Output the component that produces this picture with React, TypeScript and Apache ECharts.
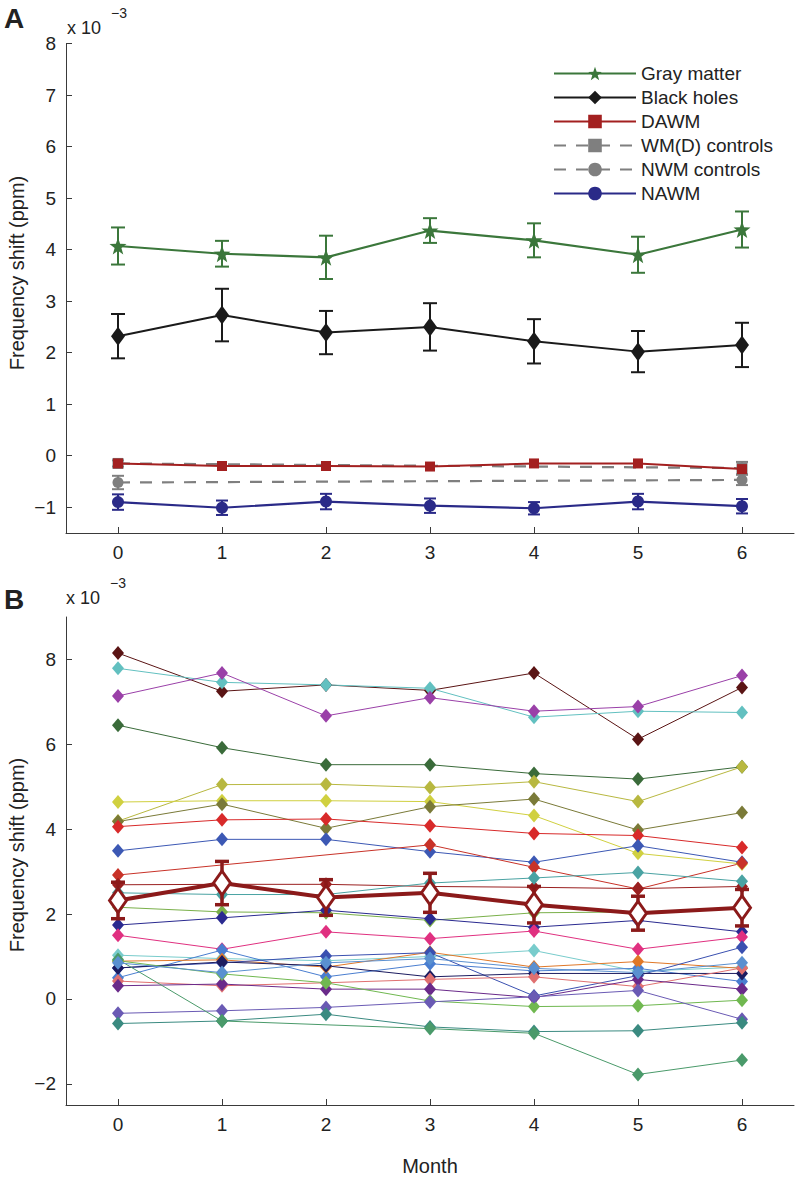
import React, { useEffect, useRef } from "react";
import * as echarts from "echarts";

const months = [0, 1, 2, 3, 4, 5, 6];
const yTicksA = [-1, 0, 1, 2, 3, 4, 5, 6, 7, 8];
const yTicksB = [-2, 0, 2, 4, 6, 8];

// Panel A
const grayMatter = [4.07, 3.92, 3.85, 4.37, 4.18, 3.9, 4.39];
const grayMatterErr = [0.36, 0.25, 0.42, 0.24, 0.33, 0.35, 0.35];
const blackHoles = [2.32, 2.73, 2.39, 2.5, 2.22, 2.02, 2.15];
const blackHolesErr = [0.43, 0.51, 0.42, 0.46, 0.43, 0.4, 0.43];
const dawm = [-0.15, -0.2, -0.2, -0.21, -0.15, -0.15, -0.26];
const wmdControls = [-0.15, null, null, null, null, null, -0.24];
const wmdControlsErr = [0.06, null, null, null, null, null, 0.12];
const nwmControls = [-0.52, null, null, null, null, null, -0.47];
const nwmControlsErr = [0.13, null, null, null, null, null, 0.1];
const nawm = [-0.9, -1.01, -0.89, -0.97, -1.02, -0.89, -0.98];
const nawmErr = [0.15, 0.14, 0.15, 0.14, 0.12, 0.15, 0.14];

// Panel B: individual black holes
const subjectColors = [
  "#5a1414", "#62c0c0", "#9a40a8", "#3a6b3a", "#b8b840", "#d0d040", "#7a7a38",
  "#d82a2a", "#3c58b4", "#c83228", "#9a2020", "#4aa3a3", "#7ab04a", "#2a2a90",
  "#e03080", "#78cccc", "#4a7ed0", "#e07828", "#3a50b0", "#1c1c60", "#e07070",
  "#6a2a8a", "#70b850", "#6a5ab4", "#3a8a80", "#4a9a6a", "#5a90d0",
];
const subjects: (number | null)[][] = [
  [8.15, 7.25, 7.4, 7.27, 7.68, 6.12, 7.34],
  [7.79, 7.46, 7.4, 7.32, 6.64, 6.78, 6.75],
  [7.14, 7.68, 6.67, 7.1, 6.78, 6.89, 7.62],
  [6.45, 5.92, 5.52, 5.52, 5.31, 5.18, 5.47],
  [4.19, 5.05, 5.06, 4.98, 5.12, 4.65, 5.47],
  [4.64, 4.67, 4.67, 4.65, 4.32, 3.43, 3.18],
  [4.18, 4.59, 4.02, 4.53, 4.71, 3.98, 4.39],
  [4.06, 4.22, 4.24, 4.08, 3.9, 3.85, 3.57],
  [3.49, 3.76, 3.76, 3.47, 3.22, 3.61, 3.22],
  [2.92, null, null, 3.63, 3.1, 2.59, 3.2],
  [2.69, 2.7, 2.7, 2.65, 2.63, 2.6, 2.65],
  [2.5, 2.46, 2.46, 2.73, 2.85, 2.98, 2.77],
  [2.16, 2.05, 2.03, 1.85, 2.03, 2.05, 2.14],
  [1.74, 1.91, 2.09, 1.89, 1.69, 1.85, 1.58],
  [1.5, 1.17, 1.58, 1.42, 1.6, 1.17, 1.46],
  [1.03, 0.95, 0.9, 1.0, 1.14, 0.65, 0.75],
  [0.5, 1.15, 0.52, 0.83, 0.66, 0.72, 0.41],
  [0.89, 0.92, 0.75, 1.1, 0.75, 0.88, 0.72],
  [0.73, 0.85, 1.01, 1.09, 0.07, 0.55, 1.22],
  [0.73, 0.87, 0.78, 0.52, 0.6, 0.6, 0.6],
  [0.42, 0.31, 0.38, 0.46, 0.52, 0.29, 0.73],
  [0.31, 0.35, 0.23, 0.23, 0.03, 0.46, 0.23],
  [0.9, 0.59, 0.38, -0.05, -0.18, -0.16, -0.03],
  [-0.34, -0.28, -0.2, -0.07, 0.05, 0.2, -0.48],
  [-0.58, -0.52, -0.36, -0.66, -0.77, -0.75, -0.56],
  [0.93, -0.52, null, -0.7, -0.81, -1.78, -1.44],
  [0.85, 0.62, 0.85, 0.95, 0.72, 0.62, 0.85],
];

const FONT = "Liberation Sans, Arial, Helvetica, sans-serif";
const AXIS_COLOR = "#3a3a3a";
const TEXT_COLOR = "#222";
const STAR =
  "path://M0,-10 L2.35,-3.24 L9.51,-3.09 L3.8,1.24 L5.88,8.09 L0,4 L-5.88,8.09 L-3.8,1.24 L-9.51,-3.09 L-2.35,-3.24Z";

const pairs = (vals: (number | null)[]) => months.map((m, i) => [m, vals[i]]);

function errorSeries(
  vals: (number | null)[],
  errs: (number | null)[],
  color: string,
  idx: number,
  lineWidth: number,
  cap: number,
  z: number
) {
  const data = months
    .map((m, i) => [m, vals[i], errs[i]])
    .filter((d) => d[1] != null && d[2] != null);
  return {
    type: "custom",
    xAxisIndex: idx,
    yAxisIndex: idx,
    z,
    silent: true,
    data,
    renderItem: (params: any, api: any) => {
      const x = api.value(0);
      const y = api.value(1);
      const e = api.value(2);
      const top = api.coord([x, y + e]);
      const bot = api.coord([x, y - e]);
      const style = { stroke: color, lineWidth };
      return {
        type: "group",
        children: [
          { type: "line", shape: { x1: top[0], y1: top[1], x2: bot[0], y2: bot[1] }, style },
          { type: "line", shape: { x1: top[0] - cap, y1: top[1], x2: top[0] + cap, y2: top[1] }, style },
          { type: "line", shape: { x1: bot[0] - cap, y1: bot[1], x2: bot[0] + cap, y2: bot[1] }, style },
        ],
      };
    },
  };
}

const minusFmt = (v: number) => (v < 0 ? "\u2212" + Math.abs(v) : String(v));

function xAxisDef(gridIndex: number) {
  return {
    type: "value",
    gridIndex,
    min: -0.5,
    max: 6.5,
    axisLine: { show: true, onZero: false, lineStyle: { color: AXIS_COLOR, width: 1 } },
    axisTick: { show: true, inside: true, length: 6, customValues: months, lineStyle: { color: AXIS_COLOR } },
    axisLabel: { customValues: months, margin: 10, fontSize: 19, color: TEXT_COLOR, fontFamily: FONT },
    splitLine: { show: false },
  };
}

function yAxisDef(gridIndex: number, min: number, max: number, ticks: number[]) {
  return {
    type: "value",
    gridIndex,
    min,
    max,
    axisLine: { show: true, onZero: false, lineStyle: { color: AXIS_COLOR, width: 1 } },
    axisTick: { show: true, inside: true, length: 6, customValues: ticks, lineStyle: { color: AXIS_COLOR } },
    axisLabel: {
      customValues: ticks,
      margin: 10,
      fontSize: 19,
      color: TEXT_COLOR,
      fontFamily: FONT,
      formatter: minusFmt,
    },
    splitLine: { show: false },
  };
}

export default function App() {
  const ref = useRef<HTMLDivElement>(null);

  useEffect(() => {
    if (!ref.current) return;
    const chart = echarts.init(ref.current, null, { renderer: "svg" });

    const green = "#3b773b";
    const black = "#1a1a1a";
    const dred = "#a32020";
    const gray = "#7f7f7f";
    const navy = "#2a2a88";
    const meanRed = "#8b1a1a";

    const series: any[] = [
      // Panel A
      errorSeries(grayMatter, grayMatterErr, green, 0, 2, 7, 3),
      errorSeries(blackHoles, blackHolesErr, black, 0, 2, 7, 3),
      errorSeries(wmdControls, wmdControlsErr, gray, 0, 2, 6, 3),
      errorSeries(nwmControls, nwmControlsErr, gray, 0, 2, 6, 3),
      errorSeries(nawm, nawmErr, navy, 0, 2, 6, 3),
      {
        name: "Gray matter", type: "line", xAxisIndex: 0, yAxisIndex: 0, z: 4,
        data: pairs(grayMatter), symbol: STAR, symbolSize: 17,
        lineStyle: { color: green, width: 2.2 }, itemStyle: { color: green },
      },
      {
        name: "Black holes", type: "line", xAxisIndex: 0, yAxisIndex: 0, z: 4,
        data: pairs(blackHoles), symbol: "diamond", symbolSize: [14, 19],
        lineStyle: { color: black, width: 2 }, itemStyle: { color: black },
      },
      {
        name: "DAWM", type: "line", xAxisIndex: 0, yAxisIndex: 0, z: 5,
        data: pairs(dawm), symbol: "rect", symbolSize: 10,
        lineStyle: { color: dred, width: 2 }, itemStyle: { color: dred },
      },
      {
        name: "WM(D) controls", type: "line", xAxisIndex: 0, yAxisIndex: 0, z: 4,
        data: pairs(wmdControls), connectNulls: true, symbol: "rect", symbolSize: 11,
        lineStyle: { color: gray, width: 2.2, type: [12, 10] }, itemStyle: { color: gray },
      },
      {
        name: "NWM controls", type: "line", xAxisIndex: 0, yAxisIndex: 0, z: 4,
        data: pairs(nwmControls), connectNulls: true, symbol: "circle", symbolSize: 11,
        lineStyle: { color: gray, width: 2.2, type: [12, 10] }, itemStyle: { color: gray },
      },
      {
        name: "NAWM", type: "line", xAxisIndex: 0, yAxisIndex: 0, z: 4,
        data: pairs(nawm), symbol: "circle", symbolSize: 12,
        lineStyle: { color: navy, width: 2.2 }, itemStyle: { color: navy },
      },
    ];

    subjects.forEach((vals, i) => {
      series.push({
        name: "Subject " + (i + 1), type: "line", xAxisIndex: 1, yAxisIndex: 1, z: 2,
        data: pairs(vals), connectNulls: true, symbol: "diamond", symbolSize: [12, 14],
        lineStyle: { color: subjectColors[i], width: 1 }, itemStyle: { color: subjectColors[i] },
      });
    });

    series.push(errorSeries(blackHoles, blackHolesErr, meanRed, 1, 3.5, 7, 6));
    series.push({
      name: "Mean black holes", type: "line", xAxisIndex: 1, yAxisIndex: 1, z: 7,
      data: pairs(blackHoles), symbol: "diamond", symbolSize: [17, 24],
      lineStyle: { color: meanRed, width: 4 },
      itemStyle: { color: "#ffffff", borderColor: meanRed, borderWidth: 3 },
    });

    const txt = (text: string, x: number, y: number, size: number, extra: any = {}) => ({
      type: "text", x, y,
      style: { text, fontSize: size, fontFamily: FONT, fill: TEXT_COLOR, ...extra },
    });

    chart.setOption({
      animation: false,
      backgroundColor: "#ffffff",
      grid: [
        { left: 66, top: 43.5, width: 728, height: 489.5 },
        { left: 66, top: 617, width: 728, height: 488 },
      ],
      xAxis: [xAxisDef(0), xAxisDef(1)],
      yAxis: [yAxisDef(0, -1.5, 8, yTicksA), yAxisDef(1, -2.5, 9, yTicksB)],
      legend: {
        data: ["Gray matter", "Black holes", "DAWM", "WM(D) controls", "NWM controls", "NAWM"],
        orient: "vertical",
        left: 548,
        top: 59,
        itemWidth: 82,
        itemHeight: 17,
        itemGap: 5,
        selectedMode: false,
        textStyle: { fontSize: 19, color: TEXT_COLOR, fontFamily: FONT },
      },
      graphic: [
        txt("A", 4, 4, 28, { fontWeight: "bold" }),
        txt("B", 4, 585, 28, { fontWeight: "bold" }),
        txt("x 10", 67, 19, 18),
        txt("\u22123", 111, 6, 14),
        txt("x 10", 66, 589, 18),
        txt("\u22123", 110, 576, 14),
        {
          type: "text", x: 17, y: 273, rotation: Math.PI / 2,
          style: { text: "Frequency shift (ppm)", fontSize: 20, fontFamily: FONT, fill: TEXT_COLOR, align: "center", verticalAlign: "middle" },
        },
        {
          type: "text", x: 17, y: 855, rotation: Math.PI / 2,
          style: { text: "Frequency shift (ppm)", fontSize: 20, fontFamily: FONT, fill: TEXT_COLOR, align: "center", verticalAlign: "middle" },
        },
        {
          type: "text", x: 430, y: 1166,
          style: { text: "Month", fontSize: 20, fontFamily: FONT, fill: TEXT_COLOR, align: "center", verticalAlign: "middle" },
        },
      ],
      series,
    });

    return () => chart.dispose();
  }, []);

  return (
    <div
      ref={ref}
      style={{ position: "absolute", left: 0, top: 0, width: 797, height: 1178, background: "#fff" }}
    />
  );
}
